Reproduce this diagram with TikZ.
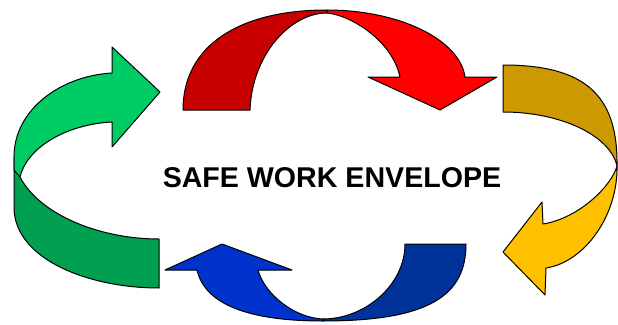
\documentclass[tikz,border=0pt]{standalone}
\usepackage{fontspec}
\setmainfont{Liberation Sans}
\usepackage{xcolor}
\usepackage{tikz}
\usetikzlibrary{positioning}
\definecolor{reddark}{RGB}{200,0,0}
\definecolor{redlight}{RGB}{255,0,0}
\definecolor{golddark}{RGB}{204,153,0}
\definecolor{goldlight}{RGB}{255,192,0}
\definecolor{greendark}{RGB}{0,160,80}
\definecolor{greenlight}{RGB}{0,204,102}
\definecolor{bluedark}{RGB}{0,51,153}
\definecolor{bluelight}{RGB}{0,51,204}
\tikzset{
  band/.style={
    draw=black, line width=1pt, line join=round
  },
  envlabel/.style={
    font=\fontsize{28.6}{32}\selectfont\bfseries, inner sep=0pt
  }
}

\begin{document}
\begin{tikzpicture}[x=1pt, y=-1pt]
    \useasboundingbox (0,0) rectangle (618,324);
    % top arrow (red)
    \draw[band, fill=reddark] (183,110) .. controls (183,45) and (240,10) .. (327,10)
      -- (327,13) .. controls (290,13) and (252,55) .. (250,110) -- cycle;
    \draw[band, fill=redlight] (327,10) .. controls (400,10) and (460,40) .. (465,77)
      -- (497,77) -- (440,110) -- (368,77) -- (400,77)
      .. controls (392,40) and (350,15) .. (327,13) -- cycle;
    % right arrow (gold)
    \draw[band, fill=golddark] (503,65) .. controls (585,65) and (618,95) .. (617,166)
      .. controls (610,135) and (560,112) .. (503,112) -- cycle;
    \draw[band, fill=goldlight] (617,166) .. controls (618,215) and (585,262) .. (546,268)
      -- (545,295) -- (503,252) -- (542,202) -- (543,224)
      .. controls (580,218) and (612,185) .. (617,166) -- cycle;
    % bottom arrow (blue)
    \draw[band, fill=bluedark] (466,244) .. controls (466,295) and (430,321) .. (323,321)
      -- (323,319) .. controls (365,319) and (405,285) .. (405,244) -- cycle;
    \draw[band, fill=bluelight] (323,321) .. controls (250,321) and (205,305) .. (197,270)
      -- (165,270) -- (222,244) -- (292,270) -- (258,270)
      .. controls (265,295) and (295,318) .. (323,319) -- cycle;
    % left arrow (green)
    \draw[band, fill=greendark] (14,157) -- (14,207) .. controls (14,260) and (90,288) .. (159,288)
      -- (159,239) .. controls (100,239) and (40,215) .. (20,177) -- cycle;
    \draw[band, fill=greenlight] (112,122) .. controls (70,124) and (28,145) .. (20,177)
      -- (14,170) -- (14,157) .. controls (14,110) and (60,76) .. (112,73)
      -- (112,47) -- (160,92) -- (112,147) -- cycle;
    \node[envlabel] (title) at (332,178) {SAFE WORK ENVELOPE};
\end{tikzpicture}
\end{document}
